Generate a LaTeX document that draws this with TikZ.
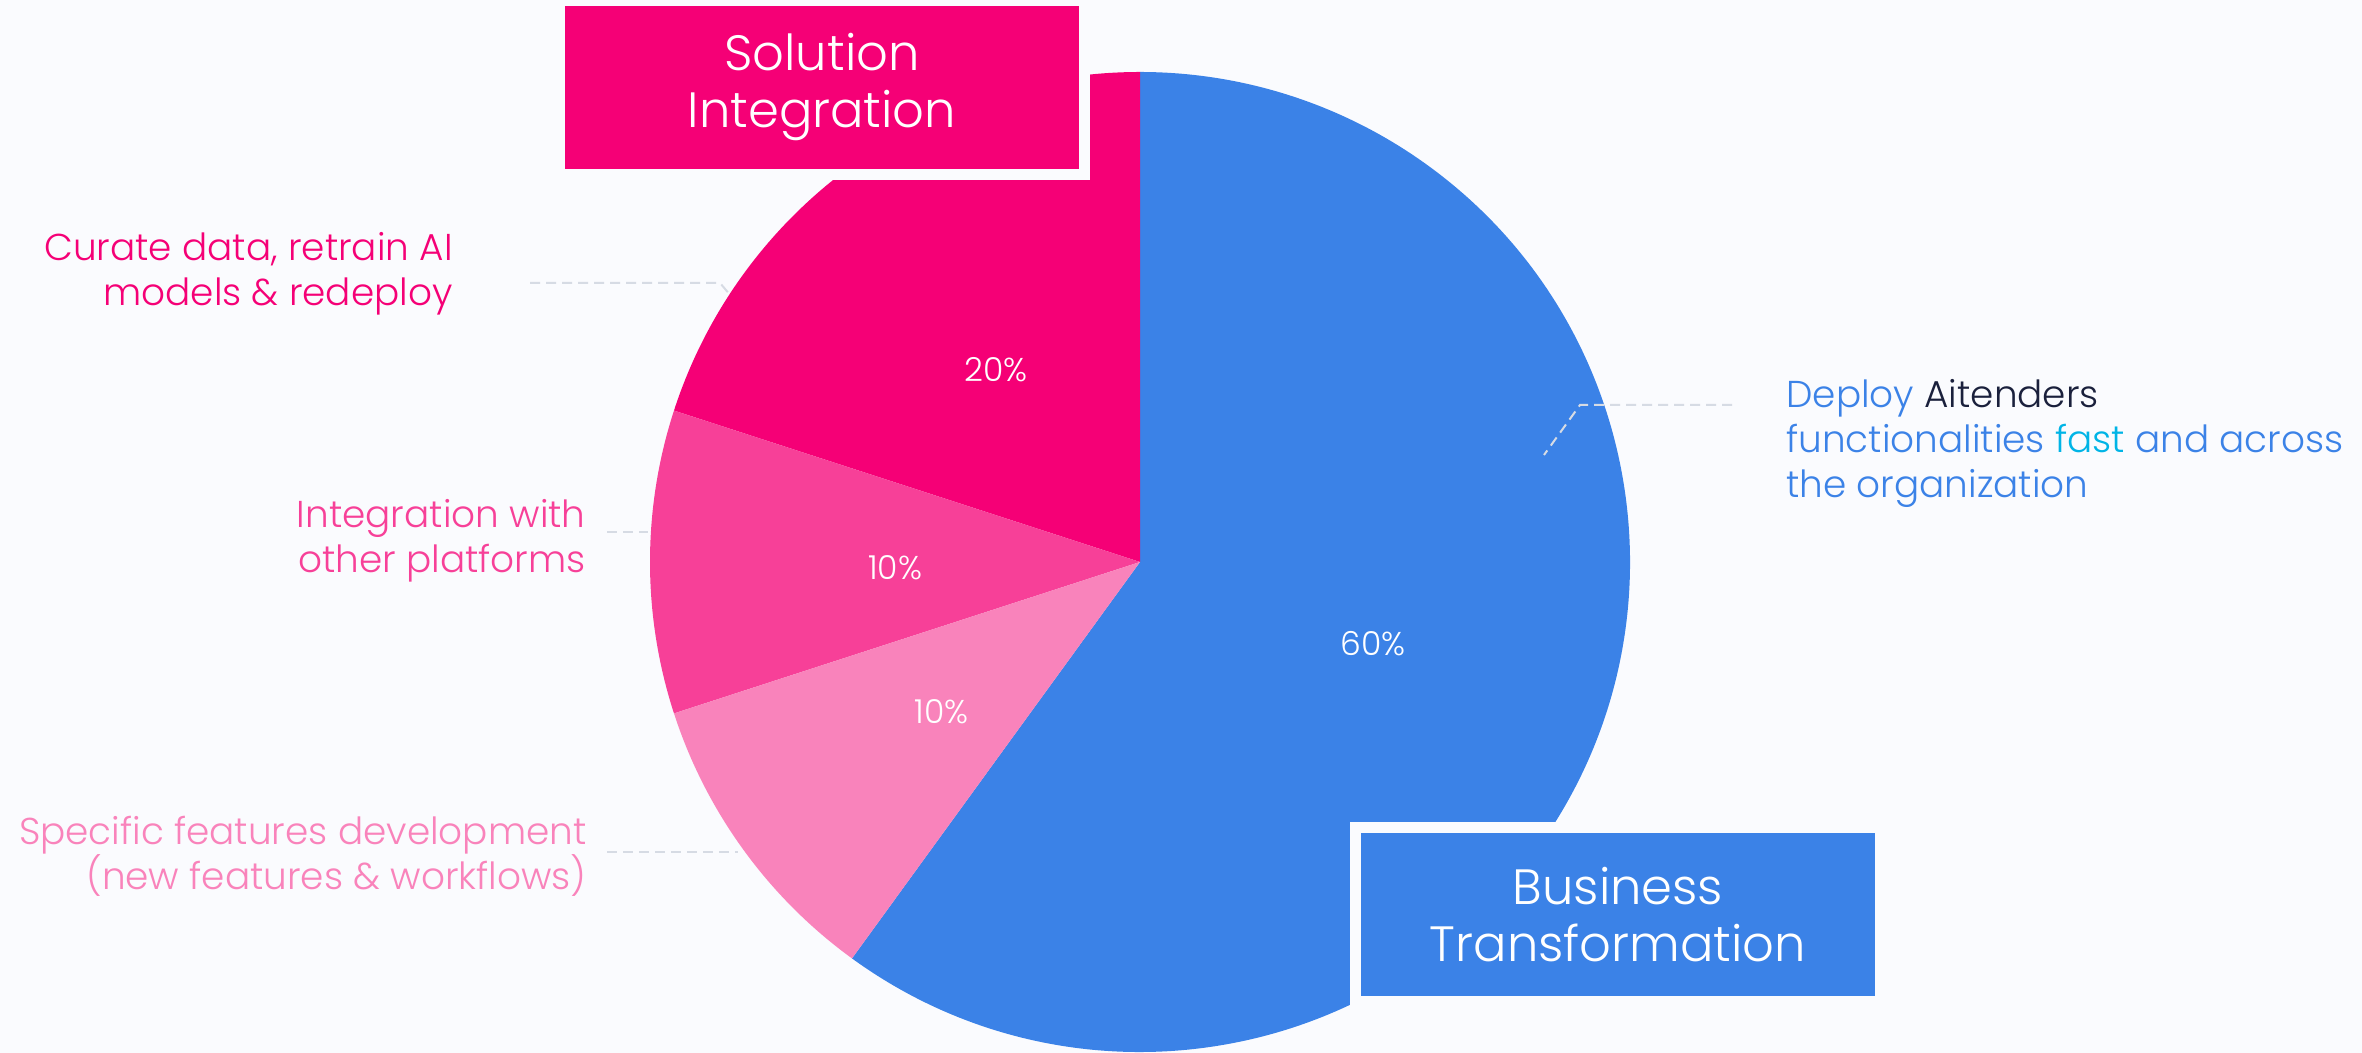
\documentclass[tikz,border=0pt]{standalone}
\usepackage{fontspec}
\setmainfont{Poppins Light}
\usetikzlibrary{positioning, calc}

\definecolor{bgcol}{RGB}{250,251,254}
\definecolor{solpink}{RGB}{245,0,118}
\definecolor{intpink}{RGB}{247,64,152}
\definecolor{featpink}{RGB}{249,131,187}
\definecolor{bizblue}{RGB}{59,130,231}
\definecolor{navy}{RGB}{26,32,60}
\definecolor{fastcyan}{RGB}{0,180,230}
\definecolor{leadgray}{RGB}{214,219,228}

\begin{document}
\begin{tikzpicture}
    [x=0.5pt, y=0.5pt,
    pct/.style={text=white, yshift=-3pt, font=\fontsize{16.5}{18}\selectfont},
    catbox/.style={rectangle, minimum width=257pt, minimum height=81.5pt, inner sep=0pt,
        align=center, text=white, font=\fontsize{24.8}{28.5}\selectfont,
        preaction={draw=bgcol, line width=11pt}},
    sidelabel/.style={inner sep=0pt, font=\fontsize{18.7}{22.5}\selectfont},
    leader/.style={draw=leadgray, line width=1pt, dash pattern=on 5pt off 3pt}]

    %Background
    \fill[bgcol] (0,0) rectangle (2362,1053);
    \useasboundingbox (0,0) rectangle (2362,1053);

    %Pie
    \coordinate (pie) at (1140,491);
    \foreach \a/\b/\c/\p in {-126/90/bizblue/60, 90/162/solpink/20, 162/198/intpink/10, 198/234/featpink/10}{
        \fill[\c] (pie) -- ++(\a:490) arc[start angle=\a, end angle=\b, radius=490] -- cycle;
        \node[pct](pct\c) at ($(pie)+({(\a+\b)/2}:245)$) {\p\%};
    }

    %Leaders
    \coordinate (curatestart) at (530,770);
    \coordinate (curatebend) at (720,770);
    \coordinate (curateend) at (731,757);
    \coordinate (intstart) at (607,521);
    \coordinate (intend) at (648,521);
    \coordinate (featstart) at (607,201);
    \coordinate (featend) at (738,201);
    \coordinate (deploystart) at (1732,648);
    \coordinate (deploybend) at (1580,648);
    \coordinate (deployend) at (1544,598);
    \draw[leader] (curatestart) -- (curatebend) -- (curateend);
    \draw[leader] (intstart) -- (intend);
    \draw[leader] (featstart) -- (featend);
    \draw[leader] (deploystart) -- (deploybend) -- (deployend);

    %Labels
    \node[sidelabel, text=solpink, align=right](curate)[left=38.5pt of curatestart, yshift=4.8pt]
        {Curate data, retrain AI\\models \& redeploy};
    \node[sidelabel, text=intpink, align=right](integ)[left=10.5pt of intstart, yshift=-4.3pt]
        {Integration with\\other platforms};
    \node[sidelabel, text=featpink, align=right](feat)[left=10pt of featstart, yshift=-2pt]
        {Specific features development\\(new features \& workflows)};
    \node[sidelabel, text=bizblue, align=left](deploy)[right=27pt of deploystart, yshift=-19pt]
        {Deploy {\color{navy}Aitenders}\\functionalities {\color{fastcyan}fast} and across\\the organization};

    %Boxes
    \node[catbox, fill=solpink](solution) at (822,965.5) {Solution\\Integration};
    \node[catbox, fill=bizblue](business) at (1618,138.5) {Business\\Transformation};

\end{tikzpicture}
\end{document}
